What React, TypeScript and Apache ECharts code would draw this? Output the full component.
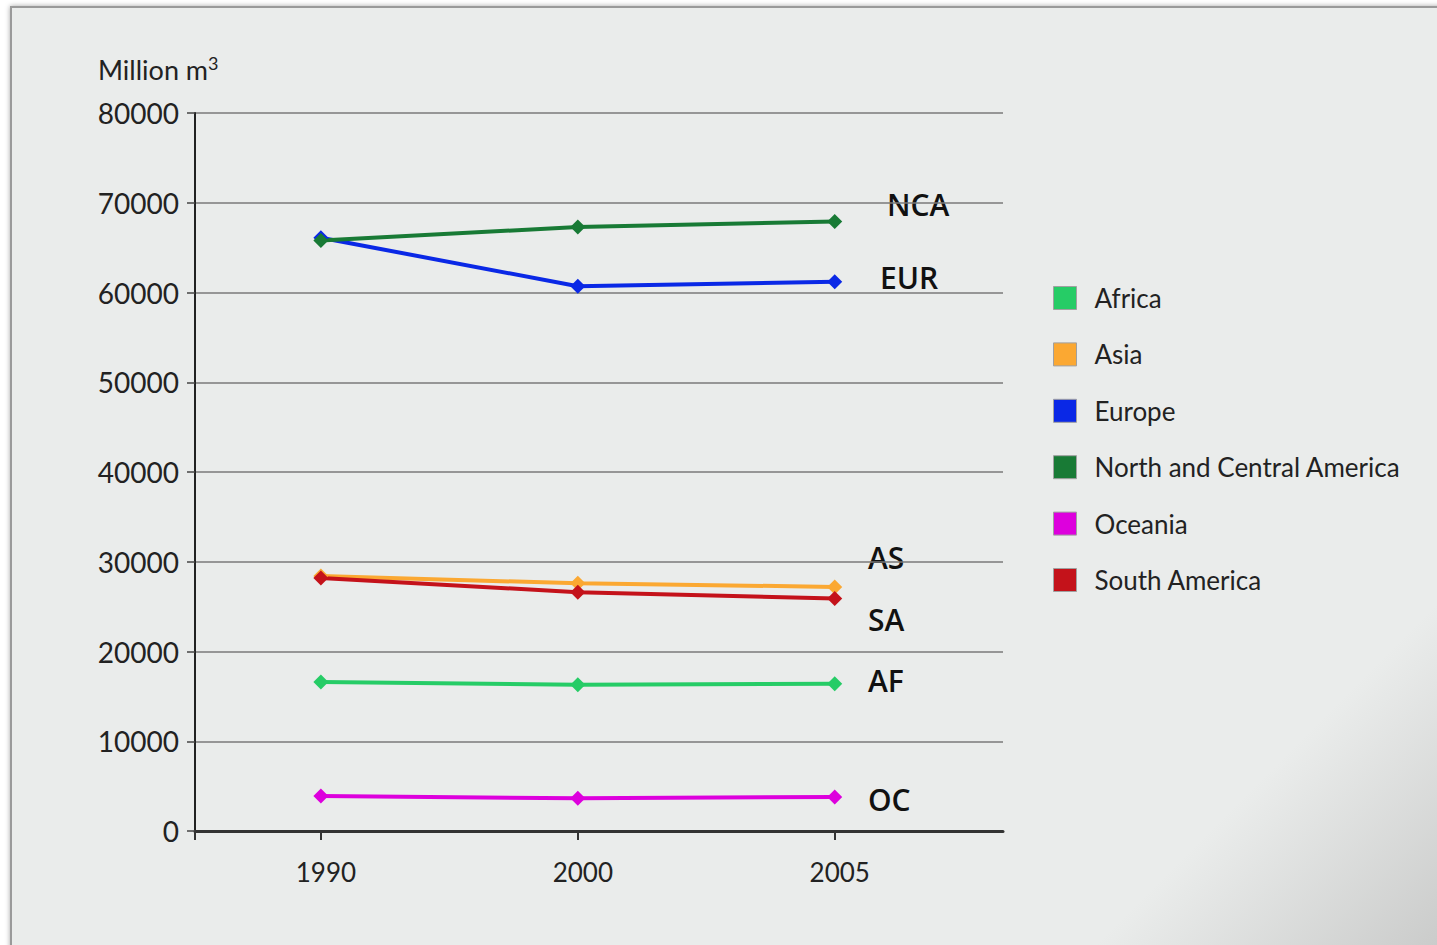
import React, { useEffect, useRef } from "react";
import * as echarts from "echarts";

const years = ["1990", "2000", "2005"];
const yTicks = [0, 10000, 20000, 30000, 40000, 50000, 60000, 70000, 80000];

const seriesNames = ["Africa", "Asia", "Europe", "North and Central America", "Oceania", "South America"];
const shortNames = ["AF", "AS", "EUR", "NCA", "OC", "SA"];
const colors = ["#26cc66", "#fba832", "#0a28e6", "#187a35", "#dd00dd", "#c4121a"];

const africa = [16600, 16300, 16400];
const asia = [28400, 27600, 27200];
const europe = [66100, 60700, 61200];
const northCentralAmerica = [65800, 67300, 67900];
const oceania = [3900, 3650, 3800];
const southAmerica = [28200, 26600, 25900];

const allValues = [africa, asia, europe, northCentralAmerica, oceania, southAmerica];

// annotation placement (left x, center y) in pixels, matching seriesNames order
const annotationPos: [number, number][] = [
  [868, 680],
  [868, 557],
  [880, 277],
  [887, 204],
  [868, 799],
  [868, 619],
];

const AXIS_FONT = "Lato, 'Noto Sans', sans-serif";
const LABEL_FONT = "'Open Sans', 'Noto Sans', sans-serif";

export default function App() {
  const ref = useRef<HTMLDivElement>(null);

  useEffect(() => {
    if (!ref.current) return;
    const chart = echarts.init(ref.current, undefined, { renderer: "svg" });

    const series = seriesNames.map((name, i) => ({
      name,
      type: "line",
      data: allValues[i].map((v, k) => [k, v]),
      symbol: "diamond",
      symbolSize: 15,
      lineStyle: { width: 4, color: colors[i] },
      itemStyle: { color: colors[i] },
      emphasis: { disabled: true },
    }));

    chart.setOption({
      animation: false,
      backgroundColor: "transparent",
      grid: { left: 195, top: 113, right: 434, bottom: 114, containLabel: false },
      xAxis: {
        type: "value",
        min: -0.49,
        max: 2.655,
        axisLine: { show: true, onZero: false, lineStyle: { color: "#333", width: 3 } },
        axisTick: {
          show: true,
          customValues: [-0.49, 0, 1, 2],
          length: 9,
          lineStyle: { color: "#333", width: 2 },
        },
        axisLabel: {
          customValues: [0, 1, 2],
          formatter: (v: number) => years[Math.round(v)] ?? "",
          fontSize: 26,
          fontFamily: AXIS_FONT,
          color: "#222",
          margin: 28,
          padding: [0, 0, 0, 10],
        },
        splitLine: { show: false },
      },
      yAxis: {
        type: "value",
        min: yTicks[0],
        max: yTicks[yTicks.length - 1],
        interval: 10000,
        axisLine: { show: true, onZero: false, lineStyle: { color: "#222", width: 2 } },
        axisTick: { show: true, length: 8, lineStyle: { color: "#444", width: 1.5 } },
        axisLabel: {
          fontSize: 28,
          fontFamily: AXIS_FONT,
          color: "#222",
          margin: 16,
          formatter: (v: number) => String(v),
        },
        splitLine: { show: true, lineStyle: { color: "#7a7a7a", width: 1.5 } },
      },
      legend: {
        orient: "vertical",
        left: 1053,
        top: 285,
        padding: 0,
        icon: "rect",
        itemWidth: 23,
        itemHeight: 23,
        itemGap: 30.4,
        selectedMode: false,
        itemStyle: { borderColor: "#a0a0a0", borderWidth: 1 },
        textStyle: {
          fontSize: 26,
          fontFamily: AXIS_FONT,
          color: "#222",
          lineHeight: 23,
          padding: [0, 0, 0, 13],
        },
        data: seriesNames,
      },
      graphic: [
        {
          type: "text",
          x: 98,
          y: 54,
          style: {
            text: "{a|Million m}{s|3}",
            rich: {
              a: { fontSize: 27, fontFamily: AXIS_FONT, fill: "#222", lineHeight: 30 },
              s: { fontSize: 18, fontFamily: AXIS_FONT, fill: "#222", verticalAlign: "top", lineHeight: 28 },
            },
            verticalAlign: "top",
          },
        },
        ...shortNames.map((t, i) => ({
          type: "text",
          x: annotationPos[i][0],
          y: annotationPos[i][1],
          style: {
            text: t,
            fontSize: 30,
            fontFamily: LABEL_FONT,
            fontWeight: 600,
            fill: "#111",
            verticalAlign: "middle",
          },
        })),
      ],
      series,
    });

    return () => chart.dispose();
  }, []);

  return (
    <div style={{ position: "fixed", left: 0, top: 0, width: 1437, height: 945, background: "#fff", overflow: "hidden" }}>
      <div
        style={{
          position: "absolute",
          left: 10,
          top: 6,
          width: 1450,
          height: 960,
          boxSizing: "border-box",
          borderTop: "2px solid #9a9a9a",
          borderLeft: "2px solid #9a9a9a",
          boxShadow: "0 0 5px rgba(0,0,0,0.35)",
          background: "linear-gradient(135deg, #eaeceb 0%, #eaeceb 84%, #c9cac9 99%, #c6c7c6 100%)",
        }}
      />
      <div ref={ref} style={{ position: "absolute", left: 0, top: 0, width: 1437, height: 945 }} />
    </div>
  );
}
